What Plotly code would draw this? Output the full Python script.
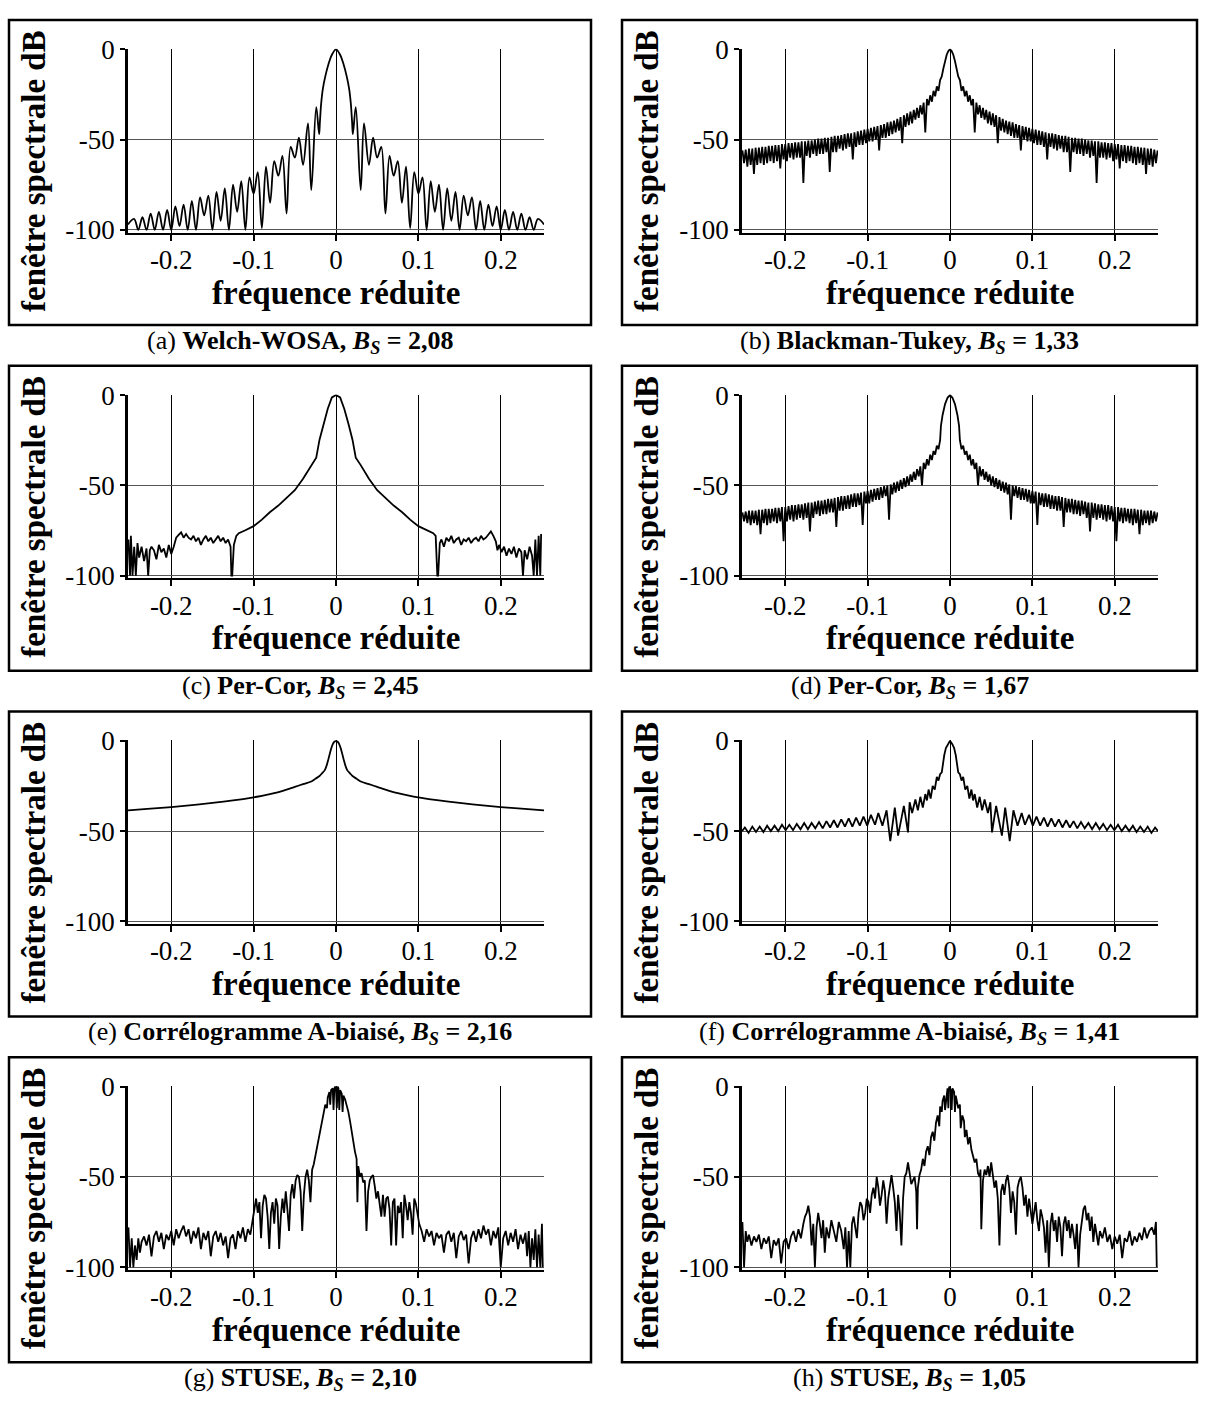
import plotly.graph_objects as go

W, H = 1205, 1412
SERIF = "Liberation Serif, Times New Roman, serif"

# Frequencies are written in thousandths of the reduced frequency, levels in dB.
# Even windows (a, b, d, e, f) are read on the positive side and reflected.

# (a) Welch-WOSA: main lobe, then sidelobe peak / null pairs
WELCH_F = [0, 5, 9, 13, 16, 18, 19.5, 20.5,
           24, 30, 34, 40, 45, 50, 55, 60, 65, 70, 75, 80, 85, 90, 95, 100,
           105, 110, 115, 120, 125, 130, 135, 140, 145, 150, 155, 160, 165, 170,
           175, 180, 185, 190, 195, 200, 205, 210, 215, 220, 225, 230, 235, 240,
           245, 252.5]
WELCH_DB = [0, -3, -8, -15, -22, -30, -40, -47,
            -32, -78, -41, -64, -49, -60, -54, -91, -59, -70, -62, -85, -65, -99, -68, -80,
            -71, -100, -73, -90, -75, -100, -77, -95, -79, -100, -81, -92, -82, -100,
            -84, -100, -86, -98, -87, -100, -89, -100, -90, -100, -91, -100, -93, -100,
            -94, -97]

# (b) and (d): narrow main lobe followed by a dense comb (peak, trough, peak, ...)
TEETH_F = [12, 14, 16, 18, 20, 22, 24, 26, 28, 30, 32, 34, 36, 38, 40, 42, 44, 46, 48, 50,
           52, 54, 56, 58, 60, 62, 64, 66, 68, 70, 72, 74, 76, 78, 80, 82, 84, 86, 88, 90,
           92, 94, 96, 98, 100, 102, 104, 106, 108, 110, 112, 114, 116, 118, 120, 122, 124,
           126, 128, 130, 132, 134, 136, 138, 140, 142, 144, 146, 148, 150, 152, 154, 156,
           158, 160, 162, 164, 166, 168, 170, 172, 174, 176, 178, 180, 182, 184, 186, 188,
           190, 192, 194, 196, 198, 200, 202, 204, 206, 208, 210, 212, 214, 216, 218, 220,
           222, 224, 226, 228, 230, 232, 234, 236, 238, 240, 242, 244, 246, 248, 250, 252]

BT_LOBE_F = [0, 2, 4, 6, 8, 10]
BT_LOBE_DB = [0, -1, -3, -6.5, -10.5, -15]
BT_TEETH_DB = [-17, -23, -20.5, -26, -23, -29, -25.5, -31, -27.5, -46, -29.5, -36, -31, -38,
               -32.5, -39, -33.5, -41, -34.5, -42, -35.5, -43, -36.5, -52, -37.5, -45, -38.5,
               -46, -39.5, -47, -40, -48, -40.5, -49, -41.5, -49, -42, -56, -42.5, -50, -43,
               -51, -43.5, -51, -44, -52, -44.5, -53, -45, -53, -45.5, -54, -46, -61, -46.5,
               -54, -46.5, -55, -47, -56, -47.5, -55, -48, -57, -48, -57, -48.5, -68, -49,
               -57, -49, -58, -49.5, -58, -49.5, -59, -50, -58, -50.5, -60, -50.5, -59, -51,
               -74, -51, -60, -51.5, -60, -51.5, -61, -52, -60, -52, -62, -52.5, -61, -52.5,
               -66, -53, -62, -53, -63, -53.5, -62, -53.5, -63, -54, -64, -54, -63, -54.5,
               -64, -54.5, -69, -55, -64, -55, -65, -55.5, -63, -56]

PC_LOBE_F = [0, 3, 6, 9, 11]
PC_LOBE_DB = [0, -1.5, -5, -11, -17]
PC_TEETH_DB = [-25, -30, -28, -33, -31, -36, -33, -39, -35.5, -41, -37.5, -50, -39.5, -45,
               -41, -47, -42.5, -48, -44, -50, -45, -51, -46, -52, -47, -53, -48, -54, -48.5,
               -55, -49.5, -69, -50, -56, -50.5, -57, -51, -58, -51.5, -58, -52, -59, -52.5,
               -60, -53, -60, -53.5, -72, -54, -61, -54.5, -62, -54.5, -62, -55, -63, -55.5,
               -63, -56, -64, -56, -64, -56.5, -73, -57, -65, -57.5, -65, -57.5, -66, -58,
               -66, -58.5, -67, -58.5, -66, -59, -68, -59.5, -75.5, -59.5, -68, -60, -69,
               -60.5, -68, -60.5, -69, -61, -70, -61, -69, -61.5, -70, -62, -81, -62, -70,
               -62.5, -71, -62.5, -70, -63, -71, -63, -72, -63, -71, -63.5, -77, -63.5, -72,
               -64, -71, -64, -72, -64, -71, -64.5, -70, -65]

# (c) Per-Cor, B_S = 2,45 (full span, not symmetric)
C_F = [-252, -250, -249, -247, -245, -243, -241, -239, -236, -233,
       -230, -228, -226, -224, -221, -218, -215, -212, -209, -206,
       -203, -200, -197, -194, -191, -188, -185, -182, -179, -176,
       -173, -170, -167, -164, -161, -158, -155, -152, -149, -146,
       -143, -140, -137, -134, -131, -128, -127, -126, -124, -121,
       -118, -110, -100, -90, -80, -70, -60, -50, -40, -30,
       -24, -20, -15, -10, -5, 0, 5, 10, 15, 20,
       24, 30, 40, 50, 60, 70, 80, 90, 100, 110,
       118, 121, 123, 124, 126, 128, 131, 134, 137, 140,
       143, 146, 149, 152, 155, 158, 161, 164, 167, 170,
       173, 176, 179, 182, 185, 188, 191, 194, 196, 198,
       201, 204, 207, 210, 213, 216, 219, 222, 225, 227,
       229, 232, 235, 238, 240, 242, 244, 246, 248, 249]
C_DB = [-80, -100, -78, -100, -84, -100, -82, -90, -84, -92,
        -85, -100, -86, -84, -86, -91, -83, -87, -85, -90,
        -83, -88, -84, -79, -77.5, -76, -79, -77, -79, -80,
        -78, -81, -79, -83, -80, -78, -81, -79, -82, -80,
        -78, -81, -79, -82, -80, -84, -100, -100, -83, -78,
        -76.5, -74.9, -72.6, -69, -64.8, -61.2, -56.9, -52.7, -46.4, -38.8,
        -34.7, -24.7, -15.7, -7.6, -1.3, 0, -1.3, -7.6, -15.7, -24.7,
        -34.7, -38.8, -46.4, -52.7, -56.9, -61.2, -64.8, -69, -72.6, -74.9,
        -76.5, -78, -100, -100, -82, -80, -84, -79, -81, -78,
        -82, -80, -79, -83, -80, -81, -79, -82, -80, -79,
        -81, -78, -80, -79, -77, -75.5, -78, -81, -86, -83,
        -87, -84, -89, -85, -88, -84, -90, -85, -87, -100,
        -86, -91, -84, -89, -100, -80, -100, -78, -100, -77]

# (e) Correlogramme A-biaise, B_S = 2,16
E_F = [0, 2, 4, 6, 8, 10, 12, 14, 17, 20, 25, 30, 40, 50, 60, 75, 90, 100,
       125, 150, 175, 200, 225, 252.5]
E_DB = [0, -0.5, -2, -4.5, -8, -11.5, -14.5, -16.5, -18, -19.5, -21, -22.5, -24, -25.5,
        -27, -29, -30.5, -31.3, -33, -34.4, -35.6, -36.7, -37.6, -38.5]

# (f) Correlogramme A-biaise, B_S = 1,41
F_F = [0, 3, 5, 7, 9, 10, 12, 14, 16, 18.5, 21, 23.5, 26, 28, 30, 33, 36, 39, 42, 46,
       49, 51, 56, 63, 67, 72.5, 77, 82, 87, 91, 96, 100.5, 105, 109.5, 114, 118.5, 123,
       127.5, 132, 136.5, 141, 145.5, 150, 154.5, 159, 163.5, 168, 172.5, 177, 181.5,
       186, 190.5, 195, 199.5, 204, 208.5, 213, 217.5, 222, 226.5, 231, 235.5, 240,
       244.5, 249, 252.5]
F_DB = [0, -2, -4, -8, -14, -17.5, -18.5, -22, -20, -27, -25, -32, -27, -33, -29.5, -37,
        -31, -38.5, -32.5, -40, -34, -50.7, -36, -52.5, -37, -55.5, -38.5, -47, -40, -46.5,
        -41, -47, -42, -47, -42.5, -47.5, -43, -47.5, -43.5, -48, -44, -48, -44.5, -48.5,
        -45, -48.5, -45.5, -49, -45.5, -49, -46, -49.5, -46.5, -49.5, -46.5, -50, -47, -50,
        -47, -50.5, -47.5, -50.5, -47.5, -51, -48, -50]

# (g) STUSE, B_S = 2,10
G_F = [-252, -250, -248, -246, -244, -242, -240, -238, -236, -233,
       -230, -227, -224, -221, -218, -215, -212, -209, -206, -203,
       -200, -197, -194, -191, -188, -185, -182, -179, -176, -173,
       -170, -167, -164, -161, -158, -155, -152, -149, -146, -143,
       -140, -137, -134, -131, -128, -125, -122, -119, -116, -113,
       -110, -107, -104, -101, -99, -97, -95, -93, -91, -89,
       -87, -85, -83, -81, -79, -77, -75, -73, -71, -69,
       -67, -65, -63, -61, -59, -57, -55, -53, -51, -49,
       -47, -45, -43, -41, -39, -37, -35, -33, -31, -29,
       -27, -25, -23, -21, -19, -17, -15, -13, -11, -10,
       -8, -7, -6, -4, -3, -2, -1, 0, 1, 2,
       3, 4, 5, 7, 8, 9, 11, 13, 15, 17,
       19, 21, 23, 25, 26, 27, 29, 31, 33, 35,
       37, 39, 41, 43, 45, 47, 49, 51, 53, 55,
       57, 59, 61, 63, 65, 67, 69, 71, 73, 75,
       77, 79, 81, 83, 85, 87, 89, 91, 93, 95,
       97, 99, 101, 104, 107, 110, 113, 116, 119, 122,
       125, 128, 131, 134, 137, 140, 143, 146, 149, 152,
       155, 158, 161, 164, 167, 170, 173, 176, 179, 182,
       185, 188, 191, 194, 197, 200, 203, 206, 209, 212,
       215, 218, 221, 224, 227, 230, 232, 234, 236, 238,
       240, 242, 244, 246, 248, 250, 251]
G_DB = [-78, -100, -84, -100, -88, -96, -84, -92, -86, -83,
        -88, -82, -94, -83, -80, -86, -81, -90, -82, -85,
        -80, -88, -79, -84, -80, -77, -83, -79, -87, -80,
        -84, -78, -90, -81, -85, -80, -94, -83, -80, -86,
        -81, -88, -83, -95, -84, -82, -90, -80, -84, -78,
        -86, -79, -82, -74, -68, -62, -70, -64, -84, -66,
        -60, -62, -72, -90, -70, -64, -76, -62, -66, -90,
        -72, -62, -70, -58, -68, -80, -60, -54, -62, -52,
        -49, -50, -58, -80, -60, -50, -46, -52, -64, -46,
        -43, -38, -34, -29, -24, -19, -14, -10, -12, -6,
        -3, -10, -2, -1, -13, -1, 0, -1, -12, 0,
        -1, -13, -2, -4, -14, -5, -7, -10, -14, -19,
        -25, -30, -36, -40, -64, -44, -50, -48, -53, -52,
        -80, -58, -52, -50, -49, -55, -62, -58, -66, -72,
        -60, -72, -62, -61, -68, -88, -64, -62, -88, -66,
        -70, -64, -84, -60, -66, -74, -64, -70, -82, -62,
        -65, -72, -76, -80, -86, -79, -83, -80, -88, -81,
        -84, -82, -92, -82, -80, -86, -81, -95, -83, -80,
        -85, -82, -98, -84, -80, -86, -79, -84, -77, -82,
        -79, -88, -80, -84, -78, -100, -84, -80, -88, -81,
        -86, -79, -90, -82, -87, -81, -94, -80, -100, -84,
        -96, -79, -100, -82, -100, -76, -100]

# (h) STUSE, B_S = 1,05
H_F = [-252, -250, -248, -246, -244, -241, -238, -235, -232, -229,
       -226, -223, -220, -217, -214, -211, -208, -205, -202, -199,
       -196, -193, -190, -187, -184, -181, -178, -176, -174, -172,
       -170, -168, -166, -164, -162, -160, -158, -156, -154, -152,
       -150, -147, -144, -141, -138, -135, -132, -129, -127, -125,
       -123, -121, -119, -117, -115, -113, -111, -109, -107, -105,
       -103, -101, -99, -97, -95, -93, -91, -89, -87, -85,
       -83, -81, -79, -77, -75, -73, -71, -69, -67, -65,
       -63, -61, -59, -57, -55, -53, -51, -49, -47, -45,
       -43, -41, -40, -39, -37, -35, -33, -31, -29, -27,
       -25, -23, -21, -19, -17, -15, -13, -12, -10, -9,
       -7, -6, -4, -3, -2, -1, 0, 1, 2, 3,
       5, 6, 7, 9, 10, 12, 13, 15, 17, 18,
       20, 22, 24, 26, 28, 30, 32, 34, 36, 37,
       38, 40, 42, 44, 46, 48, 50, 52, 54, 56,
       58, 60, 62, 64, 66, 68, 70, 72, 74, 76,
       78, 80, 82, 84, 86, 88, 90, 92, 94, 96,
       98, 100, 102, 104, 106, 108, 110, 112, 114, 116,
       118, 120, 122, 124, 126, 128, 130, 132, 134, 136,
       138, 140, 142, 144, 146, 148, 150, 152, 154, 156,
       158, 160, 162, 164, 166, 168, 170, 172, 174, 176,
       178, 180, 182, 185, 188, 191, 194, 197, 200, 203,
       206, 209, 212, 215, 218, 221, 224, 227, 230, 233,
       236, 239, 242, 245, 248, 250, 251]
H_DB = [-75, -100, -80, -86, -82, -88, -83, -86, -82, -90,
        -84, -87, -83, -95, -85, -88, -84, -98, -86, -84,
        -90, -83, -80, -86, -79, -84, -76, -72, -70, -66,
        -72, -88, -76, -100, -78, -70, -76, -84, -74, -92,
        -78, -84, -74, -80, -86, -75, -80, -90, -78, -100,
        -80, -100, -76, -72, -78, -84, -70, -64, -66, -74,
        -70, -62, -64, -70, -60, -56, -62, -50, -56, -66,
        -60, -52, -58, -76, -62, -54, -49, -56, -64, -80,
        -60, -70, -88, -62, -50, -48, -42, -48, -54, -52,
        -50, -58, -79, -56, -49, -46, -40, -44, -36, -33,
        -38, -28, -25, -30, -20, -16, -22, -11, -14, -8,
        -5, -13, -2, -1, -12, 0, -1, -2, -13, -1,
        -3, -14, -5, -9, -12, -10, -23, -16, -19, -28,
        -24, -32, -28, -35, -38, -42, -40, -48, -50, -46,
        -79, -52, -46, -49, -44, -50, -42, -48, -56, -52,
        -62, -88, -58, -54, -60, -52, -49, -56, -70, -58,
        -64, -82, -56, -52, -50, -56, -66, -60, -72, -62,
        -68, -76, -70, -64, -74, -80, -68, -72, -78, -92,
        -74, -100, -76, -70, -80, -74, -86, -72, -78, -94,
        -76, -72, -80, -74, -84, -76, -82, -90, -76, -100,
        -82, -74, -68, -66, -74, -70, -80, -72, -86, -76,
        -82, -88, -80, -84, -78, -86, -82, -90, -83, -87,
        -82, -95, -84, -86, -80, -88, -83, -86, -81, -85,
        -78, -84, -80, -78, -82, -75, -100]


def mirror(f_milli, db):
    xs = [-f / 1000 for f in reversed(f_milli[1:])] + [f / 1000 for f in f_milli]
    ys = list(reversed(db[1:])) + list(db)
    return xs, ys


def full(f_milli, db):
    return [f / 1000 for f in f_milli], list(db)


def px(x):
    return x / W


def py(y):
    return 1 - y / H


for fs, ds in [(WELCH_F, WELCH_DB), (TEETH_F, BT_TEETH_DB), (TEETH_F, PC_TEETH_DB),
               (C_F, C_DB), (E_F, E_DB), (F_F, F_DB), (G_F, G_DB), (H_F, H_DB)]:
    assert len(fs) == len(ds), (len(fs), len(ds))

PANELS = [
    ("a", "Welch-WOSA", "2,08", mirror(WELCH_F, WELCH_DB), "spline"),
    ("b", "Blackman-Tukey", "1,33", mirror(BT_LOBE_F + TEETH_F, BT_LOBE_DB + BT_TEETH_DB), "linear"),
    ("c", "Per-Cor", "2,45", full(C_F, C_DB), "linear"),
    ("d", "Per-Cor", "1,67", mirror(PC_LOBE_F + TEETH_F, PC_LOBE_DB + PC_TEETH_DB), "linear"),
    ("e", "Corrélogramme A-biaisé", "2,16", mirror(E_F, E_DB), "spline"),
    ("f", "Corrélogramme A-biaisé", "1,41", mirror(F_F, F_DB), "linear"),
    ("g", "STUSE", "2,10", full(G_F, G_DB), "linear"),
    ("h", "STUSE", "1,05", full(H_F, H_DB), "linear"),
]

fig = go.Figure()
layout = {}
annotations = []
shapes = []

for i, (tag, name, bs, (xs, ys), shape) in enumerate(PANELS):
    n = i + 1
    col, row = i % 2, i // 2
    sfx = "" if n == 1 else str(n)
    x0, x1 = (128, 544) if col == 0 else (742, 1158)
    zero_y = 36 + 352.5 * row
    box_top = 6 + 352.5 * row
    top, bottom = zero_y - 0.55, zero_y + 186.8

    fig.add_trace(go.Scatter(
        x=xs, y=ys, mode="lines", line=dict(color="black", width=1.8, shape=shape),
        xaxis="x" + sfx, yaxis="y" + sfx, showlegend=False, hoverinfo="skip",
    ))

    layout["xaxis" + sfx] = dict(
        domain=[px(x0), px(x1)], anchor="y" + sfx, range=[-0.2525, 0.2525],
        tickvals=[-0.2, -0.1, 0, 0.1, 0.2], ticktext=["-0.2", "-0.1", "0", "0.1", "0.2"],
        ticks="outside", ticklen=6, tickwidth=1.5, tickcolor="black",
        showline=True, linecolor="black", linewidth=2,
        showgrid=True, gridcolor="black", gridwidth=1, zeroline=False,
        ticklabelstandoff=-4,
        tickfont=dict(family=SERIF, size=27, color="black"),
    )
    layout["yaxis" + sfx] = dict(
        domain=[py(bottom), py(top)], anchor="x" + sfx, range=[-101.5, 0.3],
        tickvals=[0, -50, -100], ticktext=["0", "-50", "-100"],
        ticks="outside", ticklen=5, tickwidth=1.5, tickcolor="black",
        showline=True, linecolor="black", linewidth=2.5,
        showgrid=True, gridcolor="#555555", gridwidth=1, zeroline=False,
        tickfont=dict(family=SERIF, size=27, color="black"),
    )

    annotations.append(dict(
        text="<b>fréquence réduite</b>", x=px((x0 + x1) / 2), y=py(zero_y + 248),
        xref="paper", yref="paper", showarrow=False, xanchor="center", yanchor="middle",
        font=dict(family=SERIF, size=33, color="black"),
    ))
    annotations.append(dict(
        text="<b>fenêtre spectrale dB</b>", x=px(34 if col == 0 else 647),
        y=py(zero_y + 124), textangle=-90,
        xref="paper", yref="paper", showarrow=False, xanchor="center", yanchor="middle",
        font=dict(family=SERIF, size=33, color="black"),
    ))
    bx0, bx1 = (9, 591) if col == 0 else (622, 1197)
    annotations.append(dict(
        text=f"({tag}) <b>{name}, <i>B<sub>S</sub></i> = {bs}</b>",
        x=px((bx0 + bx1) / 2), y=py(box_top + 328),
        xref="paper", yref="paper", showarrow=False, xanchor="center", yanchor="middle",
        font=dict(family=SERIF, size=26, color="black"),
    ))
    shapes.append(dict(
        type="rect", xref="paper", yref="paper",
        x0=px(bx0), x1=px(bx1), y0=py(box_top), y1=py(box_top + 311),
        line=dict(color="black", width=2.5), fillcolor="rgba(0,0,0,0)",
    ))

fig.update_layout(
    width=W, height=H, margin=dict(l=0, r=0, t=0, b=0),
    paper_bgcolor="white", plot_bgcolor="white", showlegend=False,
    font=dict(family=SERIF, color="black"),
    annotations=annotations, shapes=shapes, **layout,
)

# pin the figure to the window corner so the page is exactly 1205 x 1412
PIN = ("var gd = document.getElementById('{plot_id}');"
       "document.body.style.margin = '0'; document.body.style.overflow = 'hidden';"
       "gd.style.position = 'absolute'; gd.style.left = '0px'; gd.style.top = '0px';")

fig.write_html("out.html", post_script=PIN, config={"displayModeBar": False})
